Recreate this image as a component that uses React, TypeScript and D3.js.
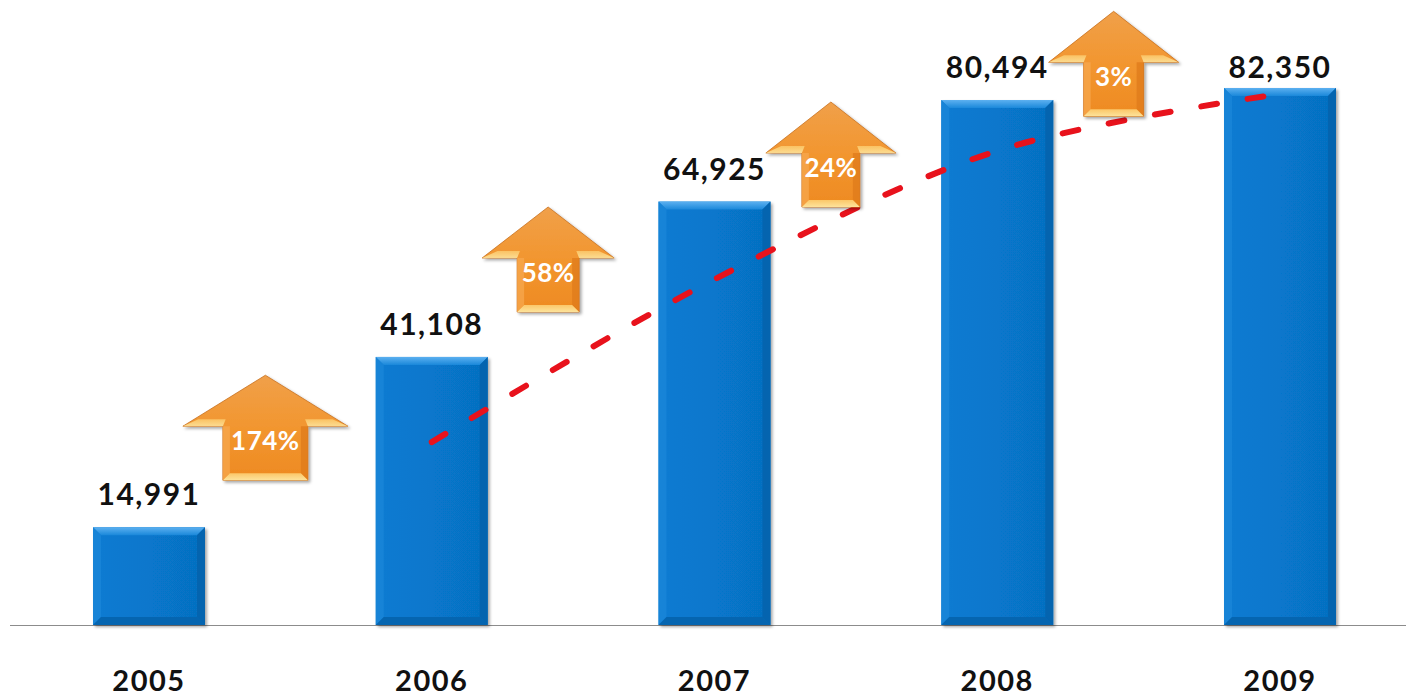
import { useMemo } from 'react';
import * as d3 from 'd3';

// values
const years = ['2005', '2006', '2007', '2008', '2009'];
const visitors = [14991, 41108, 64925, 80494, 82350];
const growthLabels = ['174%', '58%', '24%', '3%'];
// bottom of each growth arrow, in value units
const arrowLevels = [22200, 48000, 64100, 78000];

const W = 1406;
const H = 699;
const BASE_Y = 625;
const BAR_W = 112;
const BEVEL = 8;
const FONT = "Lato, 'Open Sans', sans-serif";

// arrow shapes (first one drawn a bit wider in the source)
const arrowHead = [165, 132, 130, 130];
const arrowShaft = [85, 62, 58, 60];
const ARROW_H = 105;
const HEAD_H = 51;

export default function App() {
  const x = useMemo(() => d3.scalePoint<string>().domain(years).range([149, 1280]), []);
  const y = useMemo(() => d3.scaleLinear().domain([0, 90000]).range([BASE_Y, 38.1]), []);

  // 2-period moving average trendline
  const trend = d3.pairs(visitors).map(([a, b], i) => ({ year: years[i + 1], v: (a + b) / 2 }));
  const trendPath = d3
    .line<{ year: string; v: number }>()
    .x(d => x(d.year)!)
    .y(d => y(d.v))
    .curve(d3.curveCatmullRom.alpha(0.5))(trend)!;

  return (
    <svg width={W} height={H} style={{ position: 'absolute', left: 0, top: 0, background: '#fff' }}>
      <defs>
        <linearGradient id="barBody" x1="0" x2="1" y1="0" y2="0">
          <stop offset="0" stopColor="#0a7bd2" />
          <stop offset="0.5" stopColor="#0777cc" />
          <stop offset="1" stopColor="#066fc0" />
        </linearGradient>
        <linearGradient id="barTop" x1="0" x2="0" y1="0" y2="1">
          <stop offset="0" stopColor="#5cb0f0" />
          <stop offset="1" stopColor="#1a88da" />
        </linearGradient>
        <linearGradient id="arrowBody" x1="0" x2="0" y1="0" y2="1">
          <stop offset="0" stopColor="#f0a04a" />
          <stop offset="0.5" stopColor="#f2962f" />
          <stop offset="1" stopColor="#ee8a22" />
        </linearGradient>
        <linearGradient id="arrowBevel" x1="0" x2="0" y1="0" y2="1">
          <stop offset="0" stopColor="#fbc769" />
          <stop offset="1" stopColor="#fde39b" />
        </linearGradient>
        <filter id="shadow" x="-10%" y="-10%" width="130%" height="130%">
          <feDropShadow dx="2" dy="2" stdDeviation="1.6" floodColor="#000" floodOpacity="0.35" />
        </filter>
      </defs>

      {/* baseline */}
      <line x1={10} x2={W} y1={BASE_Y + 0.5} y2={BASE_Y + 0.5} stroke="#8c8c8c" strokeWidth={1.2} />

      {/* bars */}
      {visitors.map((v, i) => {
        const x0 = x(years[i])! - BAR_W / 2;
        const x1 = x0 + BAR_W;
        const y0 = y(v);
        const y1 = BASE_Y;
        const b = BEVEL;
        return (
          <g key={years[i]}>
            <rect x={x0} y={y0} width={BAR_W} height={y1 - y0} fill="url(#barBody)" filter="url(#shadow)" />
            <polygon points={`${x0},${y0} ${x1},${y0} ${x1 - b},${y0 + b} ${x0 + b},${y0 + b}`} fill="url(#barTop)" />
            <polygon points={`${x0},${y0} ${x0 + b},${y0 + b} ${x0 + b},${y1 - b} ${x0},${y1}`} fill="#1a86d8" opacity={0.8} />
            <polygon points={`${x1},${y0} ${x1 - b},${y0 + b} ${x1 - b},${y1 - b} ${x1},${y1}`} fill="#0562ab" opacity={0.85} />
            <polygon points={`${x0},${y1} ${x0 + b},${y1 - b} ${x1 - b},${y1 - b} ${x1},${y1}`} fill="#0565b0" />
            <text
              x={x(years[i])}
              y={Math.max(y0 - 22, 78)}
              textAnchor="middle"
              fontFamily={FONT}
              fontWeight={700}
              fontSize={30}
              letterSpacing={1.5}
              fill="#111"
            >
              {d3.format(',')(v)}
            </text>
            <text
              x={x(years[i])}
              y={691}
              textAnchor="middle"
              fontFamily={FONT}
              fontWeight={700}
              fontSize={29}
              letterSpacing={1.5}
              fill="#111"
            >
              {years[i]}
            </text>
          </g>
        );
      })}

      {/* trendline */}
      <path
        d={trendPath}
        fill="none"
        stroke="#e8121c"
        strokeWidth={6}
        strokeLinecap="round"
        strokeDasharray="16 31"
      />

      {/* growth arrows */}
      {growthLabels.map((lbl, i) => {
        const cx = (x(years[i])! + x(years[i + 1])!) / 2 - 25;
        const bottom = y(arrowLevels[i]);
        const top = bottom - ARROW_H;
        const wing = top + HEAD_H;
        const hw = arrowHead[i] / 2;
        const sw = arrowShaft[i] / 2;
        const b = 7;
        const outline = [
          [cx, top],
          [cx + hw, wing],
          [cx + sw, wing],
          [cx + sw, bottom],
          [cx - sw, bottom],
          [cx - sw, wing],
          [cx - hw, wing],
        ]
          .map(p => p.join(','))
          .join(' ');
        return (
          <g key={lbl}>
            <polygon points={outline} fill="url(#arrowBody)" stroke="#c8701e" strokeWidth={0.8} filter="url(#shadow)" />
            {/* wing undersides */}
            <polygon
              points={`${cx - hw},${wing} ${cx - hw + b * 2.2},${wing - b} ${cx - sw + b * 0.4},${wing - b} ${cx - sw},${wing}`}
              fill="url(#arrowBevel)"
              opacity={0.9}
            />
            <polygon
              points={`${cx + hw},${wing} ${cx + hw - b * 2.2},${wing - b} ${cx + sw - b * 0.4},${wing - b} ${cx + sw},${wing}`}
              fill="url(#arrowBevel)"
              opacity={0.9}
            />
            {/* shaft sides + bottom bevel */}
            <polygon points={`${cx - sw},${wing} ${cx - sw + b},${wing} ${cx - sw + b},${bottom - b} ${cx - sw},${bottom}`} fill="#f6a64c" opacity={0.8} />
            <polygon points={`${cx + sw},${wing} ${cx + sw - b},${wing} ${cx + sw - b},${bottom - b} ${cx + sw},${bottom}`} fill="#e07c1c" opacity={0.8} />
            <polygon points={`${cx - sw},${bottom} ${cx - sw + b},${bottom - b} ${cx + sw - b},${bottom - b} ${cx + sw},${bottom}`} fill="url(#arrowBevel)" />
            <text
              x={cx}
              y={bottom - 30}
              textAnchor="middle"
              fontFamily={FONT}
              fontWeight={700}
              fontSize={26}
              letterSpacing={0.5}
              fill="#fff"
            >
              {lbl}
            </text>
          </g>
        );
      })}
    </svg>
  );
}
